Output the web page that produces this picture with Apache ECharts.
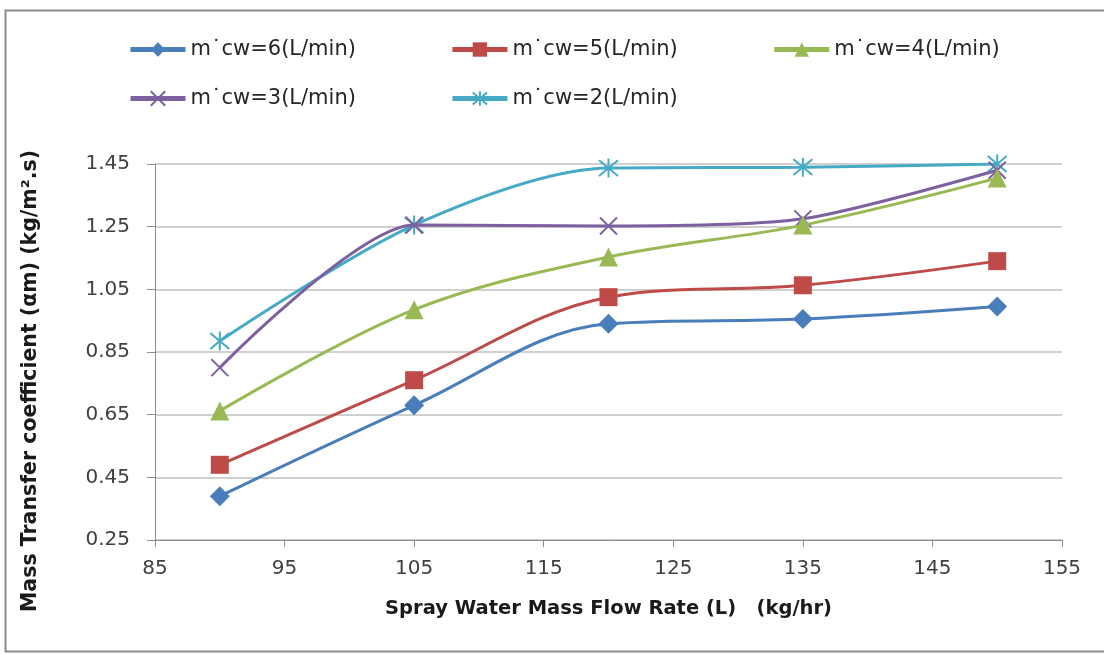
<!DOCTYPE html>
<html>
<head>
<meta charset="utf-8">
<script src="https://cdn.jsdelivr.net/npm/echarts@6/dist/echarts.min.js"></script>
<style>html,body{margin:0;padding:0;background:#fff}#c{width:1104px;height:655px}</style>
</head>
<body>
<div id="c"></div>
<script>
const xValues = [90, 105, 120, 135, 150];
const seriesNames = ['m˙cw=6(L/min)', 'm˙cw=5(L/min)', 'm˙cw=4(L/min)', 'm˙cw=3(L/min)', 'm˙cw=2(L/min)'];
const cw6 = [0.39, 0.68, 0.94, 0.955, 0.995];
const cw5 = [0.49, 0.76, 1.025, 1.063, 1.14];
const cw4 = [0.662, 0.985, 1.153, 1.255, 1.405];
const cw3 = [0.80, 1.255, 1.252, 1.275, 1.43];
const cw2 = [0.885, 1.255, 1.437, 1.44, 1.45];
const xTitle = 'Spray Water Mass Flow Rate (L)   (kg/hr)';
const yTitle = 'Mass Transfer coefficient (αm) (kg/m².s)';

const colors = ['#4a7ebb', '#be4b48', '#98b954', '#7d60a0', '#46aac5'];
const symbols = [
  'diamond',
  'rect',
  'triangle',
  'path://M0,0L10,10M10,0L0,10',
  'path://M0,0L10,10M10,0L0,10M5,-1L5,11'
];
const sizes = [20, 18, 19, 17, 19];
const smoothness = [0.35, 0.35, 0.35, 0.25, 0.3];
const allData = [cw6, cw5, cw4, cw3, cw2];
const font = '"DejaVu Sans", sans-serif';

const series = allData.map((vals, i) => {
  const strokeOnly = i >= 3;
  return {
    name: seriesNames[i],
    type: 'line',
    smooth: smoothness[i],
    data: vals.map((v, k) => [xValues[k], v]),
    symbol: symbols[i],
    symbolSize: sizes[i],
    z: 2 + (4 - i),
    lineStyle: { color: colors[i], width: 3 },
    itemStyle: strokeOnly
      ? { color: 'rgba(0,0,0,0)', borderColor: colors[i], borderWidth: 2 }
      : { color: colors[i], borderColor: colors[i], borderWidth: 0 },
    emphasis: { disabled: true }
  };
});

const legendCommon = {
  itemWidth: 55,
  itemHeight: 18,
  itemGap: 94,
  lineStyle: { width: 5 },
  textStyle: { fontFamily: font, fontSize: 21, color: '#262626' },
  selectedMode: false
};

const chart = echarts.init(document.getElementById('c'));
chart.setOption({
  animation: false,
  backgroundColor: '#fff',
  graphic: [
    { type: 'rect', shape: { x: 5.5, y: 10.5, width: 1200, height: 641 },
      style: { fill: 'none', stroke: '#8a8a8a', lineWidth: 2 }, silent: true, z: -10 },
    { type: 'text', x: 31, y: 381, rotation: Math.PI / 2,
      style: { text: yTitle, fontFamily: font, fontWeight: 'bold', fontSize: 20.5, fill: '#1a1a1a',
               align: 'center', verticalAlign: 'middle' } }
  ],
  legend: [
    Object.assign({ left: 123, top: 34, data: seriesNames.slice(0, 3) }, legendCommon),
    Object.assign({ left: 123, top: 83, data: seriesNames.slice(3) }, legendCommon)
  ],
  grid: { left: 155, right: 42, top: 164, bottom: 115, containLabel: false },
  xAxis: {
    type: 'value', min: 85, max: 155, interval: 10,
    name: xTitle, nameLocation: 'middle', nameGap: 59,
    nameTextStyle: { fontFamily: font, fontWeight: 'bold', fontSize: 19.5, color: '#1a1a1a' },
    axisLine: { show: true, lineStyle: { color: '#8c8c8c', width: 1 } },
    axisTick: { show: true, length: 7, lineStyle: { color: '#8c8c8c' } },
    axisLabel: { fontFamily: font, fontSize: 20, color: '#404040', margin: 19 },
    splitLine: { show: false }
  },
  yAxis: {
    type: 'value', min: 0.25, max: 1.45, interval: 0.2,
    axisLine: { show: true, lineStyle: { color: '#8c8c8c', width: 1 } },
    axisTick: { show: true, length: 8, lineStyle: { color: '#8c8c8c' } },
    axisLabel: { fontFamily: font, fontSize: 20, color: '#404040', margin: 25,
                 formatter: v => v.toFixed(2) },
    splitLine: { show: true, lineStyle: { color: '#c0c0c0', width: 1.5 } }
  },
  series: series
});
</script>
</body>
</html>
